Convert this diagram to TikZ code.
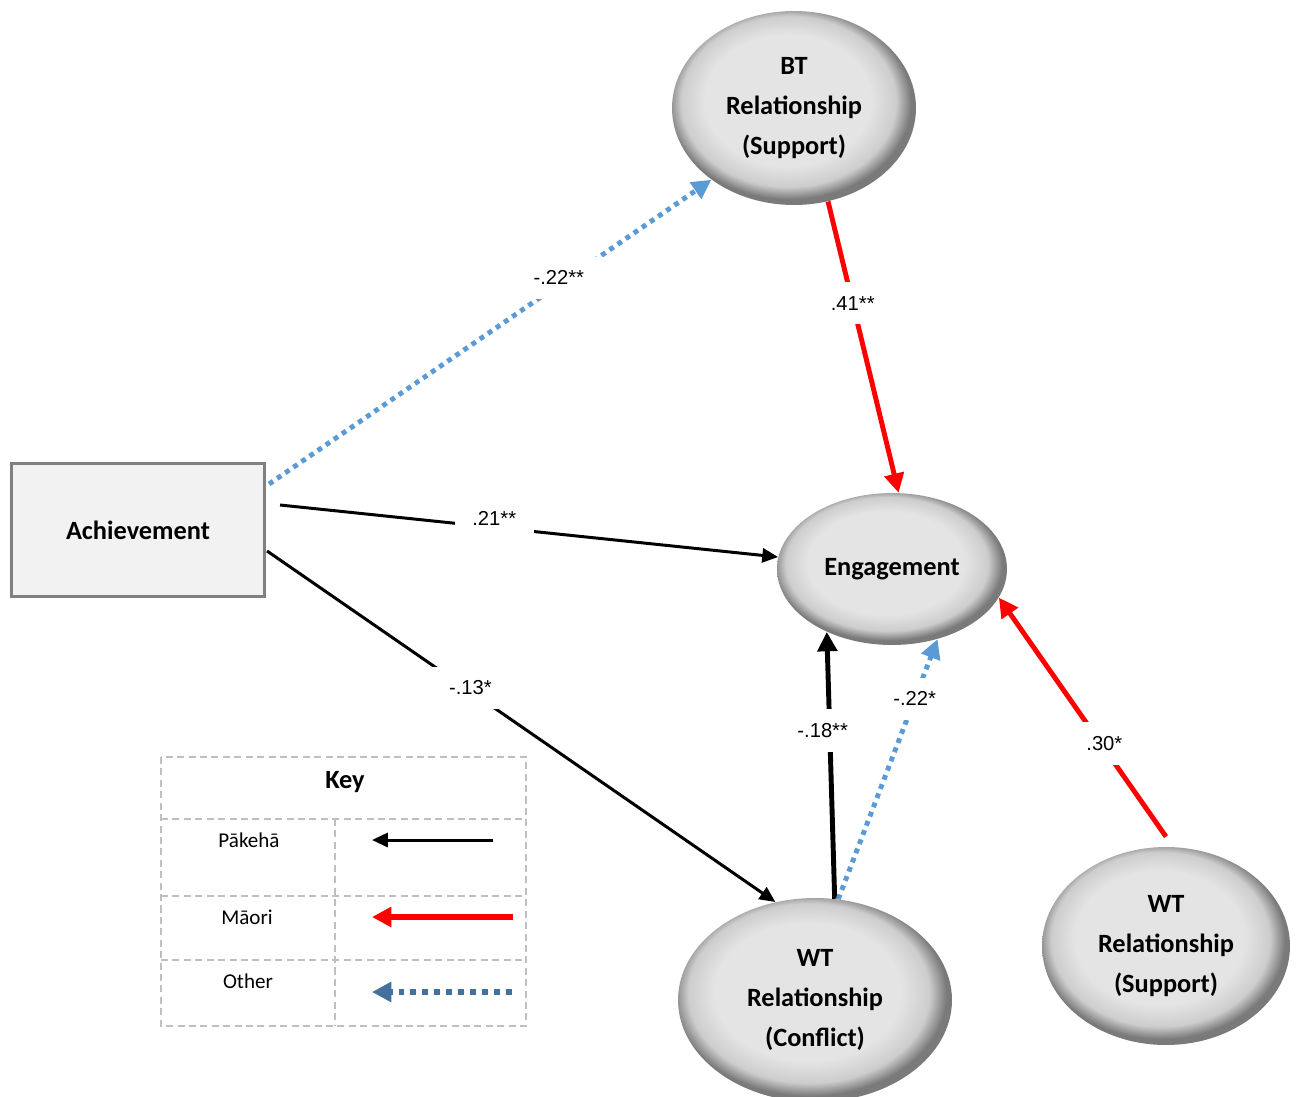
\documentclass[tikz,border=0pt]{standalone}
\usepackage{fontspec}
\setmainfont{Carlito}
\newfontfamily\numfont{Liberation Sans}
\usepackage{tikz}
\usetikzlibrary{calc,arrows.meta,shapes.geometric}
\definecolor{pakeha}{HTML}{000000}
\definecolor{maori}{HTML}{FF0000}
\definecolor{other}{HTML}{5B9BD5}
\definecolor{otherkey}{HTML}{41719C}
\definecolor{boxedge}{HTML}{808080}
\definecolor{boxfill}{HTML}{F2F2F2}
\definecolor{keyedge}{HTML}{BFBFBF}
\definecolor{ballin}{HTML}{E4E4E4}
\definecolor{ballmid}{HTML}{CDCDCD}
\definecolor{ballrim}{HTML}{7A7A7A}
\pgfdeclareradialshading{rimgray}{\pgfpoint{-2bp}{3bp}}{color(0bp)=(ballin); color(17bp)=(ballin); color(22bp)=(ballmid); color(25bp)=(ballrim); color(50bp)=(ballrim)}
\tikzset{
  pline/.style={draw=pakeha, line width=1.7pt, -{Triangle[length=9pt,width=8pt]}},
  pthick/.style={draw=pakeha, line width=2.8pt, -{Triangle[length=11pt,width=11pt]}},
  mline/.style={draw=maori, line width=2.8pt, -{Triangle[length=11pt,width=11pt]}},
  oline/.style={draw=other, line width=2.8pt, dash pattern=on 2.8pt off 2.8pt, -{Triangle[length=11pt,width=11pt]}},
  var/.style={ellipse, shading=rimgray, inner sep=0pt, align=center, font=\fontsize{15}{23}\bfseries\selectfont},
  obs/.style={rectangle, draw=boxedge, line width=1.8pt, fill=boxfill, inner sep=0pt, font=\fontsize{15}{18}\bfseries\selectfont},
  coef/.style={fill=white, inner xsep=10pt, inner ysep=8pt, font=\numfont\fontsize{11.5}{13}\selectfont},
  keyline/.style={draw=keyedge, line width=0.6pt, dash pattern=on 4pt off 2.5pt},
  keytext/.style={font=\fontsize{12}{14}\selectfont}
}

\begin{document}
\begin{tikzpicture}[x=0.02cm, y=-0.02cm]
  \useasboundingbox (0,0) rectangle (1298,1096);

  \node[obs, minimum width=5.06cm, minimum height=2.66cm] (ach) at (138,530) {Achievement};
  \node[var, minimum width=4.88cm, minimum height=3.88cm] (bt) at (794,108) {BT\\Relationship\\(Support)};
  \node[var, minimum width=4.6cm, minimum height=3.04cm] (eng) at (892,569) {Engagement};
  \node[var, minimum width=5.48cm, minimum height=4.08cm] (wtc) at (815,1000) {WT\\Relationship\\(Conflict)};
  \node[var, minimum width=4.96cm, minimum height=3.96cm] (wts) at (1166,946) {WT\\Relationship\\(Support)};

  \draw[oline] ($(ach.east)+(3,-46)$) -- node[coef, pos=0.655, yshift=4pt, inner xsep=14pt] {-.22**} (bt.221);
  \draw[mline] (bt.290) -- node[coef, pos=0.35] {.41**} (eng.85);
  \draw[pline] ($(ach.east)+(14,-25)$) -- node[coef, pos=0.43, yshift=5pt] {.21**} (eng.174);
  \draw[pline] ($(ach.east)+(1,21)$) -- node[coef, pos=0.40, yshift=2pt] {-.13*} (wtc.112);
  \draw[pthick] (wtc.79) -- node[coef, pos=0.63, xshift=-4pt] {-.18**} (eng.224);
  \draw[oline] (wtc.77) -- node[coef, pos=0.77] {-.22*} (eng.303);
  \draw[mline] ($(wts.north)+(0,-10)$) -- node[coef, pos=0.39, xshift=2pt] {.30*} (eng.345);

  % key
  \draw[keyline] (161,757) rectangle (526,1026);
  \foreach \yy in {819,896,960} \draw[keyline] (161,\yy) -- (526,\yy);
  \draw[keyline] (335,819) -- (335,1026);
  \node[font=\fontsize{15}{18}\bfseries\selectfont] (key) at (345,782) {Key};
  \node[keytext] (keypakeha) at (249,840) {Pākehā};
  \node[keytext] (keymaori) at (247,917) {Māori};
  \node[keytext] (keyother) at (248,981) {Other};
  \draw[pline] (493,840) -- (372,840);
  \draw[mline, line width=3.4pt] (513,917) -- (372,917);
  \draw[oline, draw=otherkey, line width=3.4pt, dash pattern=on 3.4pt off 3.4pt] (512,992) -- (372,992);
\end{tikzpicture}
\end{document}
